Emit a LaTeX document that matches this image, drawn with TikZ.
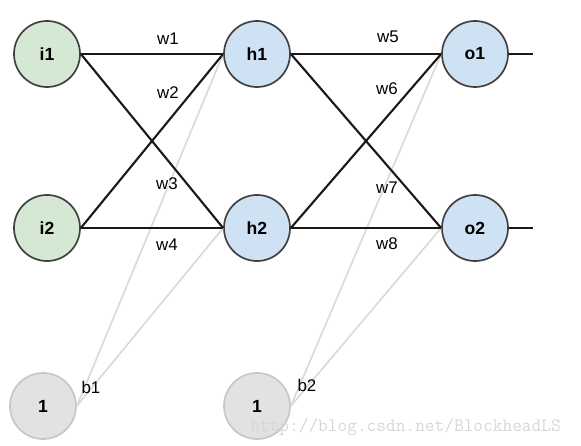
\documentclass[tikz,border=0pt]{standalone}
\usepackage{fontspec}
\setmainfont{Liberation Sans}
\usepackage{tikz}

\definecolor{ingreen}{RGB}{213,232,212}
\definecolor{hidblue}{RGB}{207,226,243}
\definecolor{biasfill}{RGB}{226,226,226}
\definecolor{biasgray}{RGB}{218,218,218}
\definecolor{wmgray}{RGB}{215,215,215}

\tikzset{
	neuron/.style={circle, draw=black!75, line width=1.2pt, minimum size=1.65cm, inner sep=0pt, font=\fontsize{12.5}{14}\selectfont\bfseries},
	innode/.style={neuron, fill=ingreen},
	hidnode/.style={neuron, fill=hidblue},
	biasnode/.style={neuron, fill=biasfill, draw=black!22},
	weight/.style={line width=1.5pt, draw=black!90},
	biasline/.style={line width=1.2pt, draw=biasgray},
	wlabel/.style={font=\fontsize{12}{14}\selectfont},
	wmark/.style={font=\fontsize{13.4}{15}\selectfont\ttfamily, text=wmgray, inner sep=0pt}
}

\begin{document}
\begin{tikzpicture}[x=0.025cm, y=-0.025cm]
	\useasboundingbox (0,0) rectangle (581,446);

	% Draw neurons
	%Input
	\node[innode] (i1) at (47,54) {i1};
	\node[innode] (i2) at (47,228) {i2};
	%Hidden
	\node[hidnode] (h1) at (257,54) {h1};
	\node[hidnode] (h2) at (257,228) {h2};
	%Output
	\node[hidnode] (o1) at (475,54) {o1};
	\node[hidnode] (o2) at (475,228) {o2};
	%Bias
	\node[biasnode] (b1) at (43,406) {1};
	\node[biasnode] (b2) at (257,406) {1};

	% Bias connections
	\draw[biasline] (b1.east) -- (h1.west);
	\draw[biasline] (b1.east) -- (h2.west);
	\draw[biasline] (b2.east) -- (o1.west);
	\draw[biasline] (b2.east) -- (o2.west);

	% Weights
	\draw[weight] (i1.east) -- (h1.west);
	\draw[weight] (i1.east) -- (h2.west);
	\draw[weight] (i2.east) -- (h1.west);
	\draw[weight] (i2.east) -- (h2.west);
	\draw[weight] (h1.east) -- (o1.west);
	\draw[weight] (h1.east) -- (o2.west);
	\draw[weight] (h2.east) -- (o1.west);
	\draw[weight] (h2.east) -- (o2.west);

	% Outputs
	\coordinate (out1) at (533,54);
	\coordinate (out2) at (533,228);
	\draw[weight] (o1.east) -- (out1);
	\draw[weight] (o2.east) -- (out2);

	%Add weight labels
	\node[wlabel] (w1) at (168,39) {w1};
	\node[wlabel] (w2) at (168,93) {w2};
	\node[wlabel] (w3) at (167,184) {w3};
	\node[wlabel] (w4) at (167,245) {w4};
	\node[wlabel] (w5) at (388,37) {w5};
	\node[wlabel] (w6) at (387,89) {w6};
	\node[wlabel] (w7) at (387,188) {w7};
	\node[wlabel] (w8) at (387,244) {w8};
	%Bias labels
	\node[wlabel] (lb1) at (91,387) {b1};
	\node[wlabel] (lb2) at (307,385) {b2};

	%Watermark
	\node[wmark, anchor=base west] (wm) at (250,432) {http://blog.csdn.net/BlockheadLS};

\end{tikzpicture}
\end{document}
